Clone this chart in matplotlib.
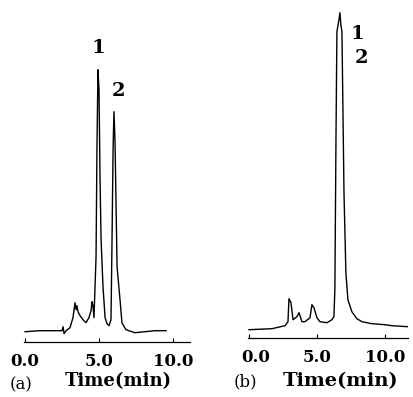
import matplotlib
matplotlib.use("Agg")
import matplotlib.pyplot as plt
from matplotlib.transforms import ScaledTranslation

# ---- data ----
time_a = [0.00, 1.01, 2.50, 2.57, 2.64, 2.77, 3.04, 3.24, 3.38, 3.45, 3.51, 3.58,
          3.72, 3.92, 4.12, 4.32, 4.46, 4.53, 4.59, 4.66, 4.80, 4.86, 4.93, 5.00,
          5.07, 5.14, 5.27, 5.41, 5.54, 5.68, 5.81, 5.88, 5.95, 6.01, 6.08, 6.15,
          6.22, 6.42, 6.55, 6.82, 7.43, 8.11, 8.78, 9.53]
signal_a = [10, 11, 11, 15, 8, 11, 14, 24, 39, 32, 36, 30,
            26, 22, 19, 24, 31, 40, 36, 24, 85, 192, 272, 252,
            162, 102, 55, 24, 18, 16, 22, 102, 192, 230, 202, 139,
            75, 42, 19, 12, 9, 10, 11, 11]

time_b = [0.00, 1.69, 2.65, 2.87, 2.94, 3.09, 3.24, 3.53, 3.68, 3.90, 4.12, 4.49,
          4.63, 4.78, 5.00, 5.22, 5.74, 6.10, 6.25, 6.32, 6.40, 6.47, 6.62, 6.69,
          6.76, 6.84, 6.91, 6.99, 7.13, 7.28, 7.57, 7.94, 8.31, 9.04, 10.00, 10.51,
          11.69]
signal_b = [8, 9, 12, 16, 39, 35, 18, 21, 25, 16, 16, 20,
            33, 30, 20, 16, 15, 18, 21, 48, 198, 306, 318, 325,
            313, 306, 231, 145, 65, 38, 26, 19, 16, 14, 13, 12,
            11]

ticks = [0.0, 5.0, 10.0]
tick_labels = ["0.0", "5.0", "10.0"]
panel_labels = ["(a)", "(b)"]
peak_labels = ["1", "2"]
xlabel = "Time(min)"

W, H = 414, 397
fig = plt.figure(figsize=(W / 100, H / 100), dpi=100)
serif = ["DejaVu Serif"]


def px_axes(x0, x1, ybot, ytop):
    return fig.add_axes([x0 / W, 1 - ybot / H, (x1 - x0) / W, (ybot - ytop) / H])


def style(ax):
    for s in ["top", "left", "right"]:
        ax.spines[s].set_visible(False)
    ax.spines["bottom"].set_linewidth(0.9)
    ax.set_yticks([])
    ax.set_xticks(ticks)
    ax.set_xticklabels(tick_labels, fontfamily=serif, fontsize=12, fontweight="bold")
    ax.tick_params(axis="x", direction="in", length=3, width=0.8, pad=8)
    ax.patch.set_alpha(0)


def ftext(x, y, s, size, weight="normal"):
    fig.text(x / W, 1 - y / H, s, fontfamily=serif, fontsize=size, fontweight=weight,
             ha="center", va="center")


# panel (a)
ax_a = px_axes(24, 190, 341.7, 5)
ax_a.plot(time_a, signal_a, color="black", lw=1.0)
ax_a.set_xlim(-0.07, 11.15)
ax_a.set_ylim(0, 336.7)
style(ax_a)

# panel (b)
ax_b = px_axes(248.3, 408, 337.7, 5)
ax_b.plot(time_b, signal_b, color="black", lw=1.0)
ax_b.set_xlim(-0.05, 11.7)
ax_b.set_ylim(0, 332.7)
style(ax_b)
lbl0 = ax_b.get_xticklabels()[0]
lbl0.set_transform(lbl0.get_transform() + ScaledTranslation(0.07, 0, fig.dpi_scale_trans))

# labels
ftext(118.5, 381, xlabel, 13, "bold")
ftext(341, 381, xlabel, 14, "bold")
ftext(21, 385, panel_labels[0], 12)
ftext(245, 381.5, panel_labels[1], 12)
ftext(98, 48, peak_labels[0], 14, "bold")
ftext(118, 91, peak_labels[1], 14, "bold")
ftext(357, 34, peak_labels[0], 14, "bold")
ftext(361, 58, peak_labels[1], 14, "bold")

fig.savefig("out.png", dpi=100)
